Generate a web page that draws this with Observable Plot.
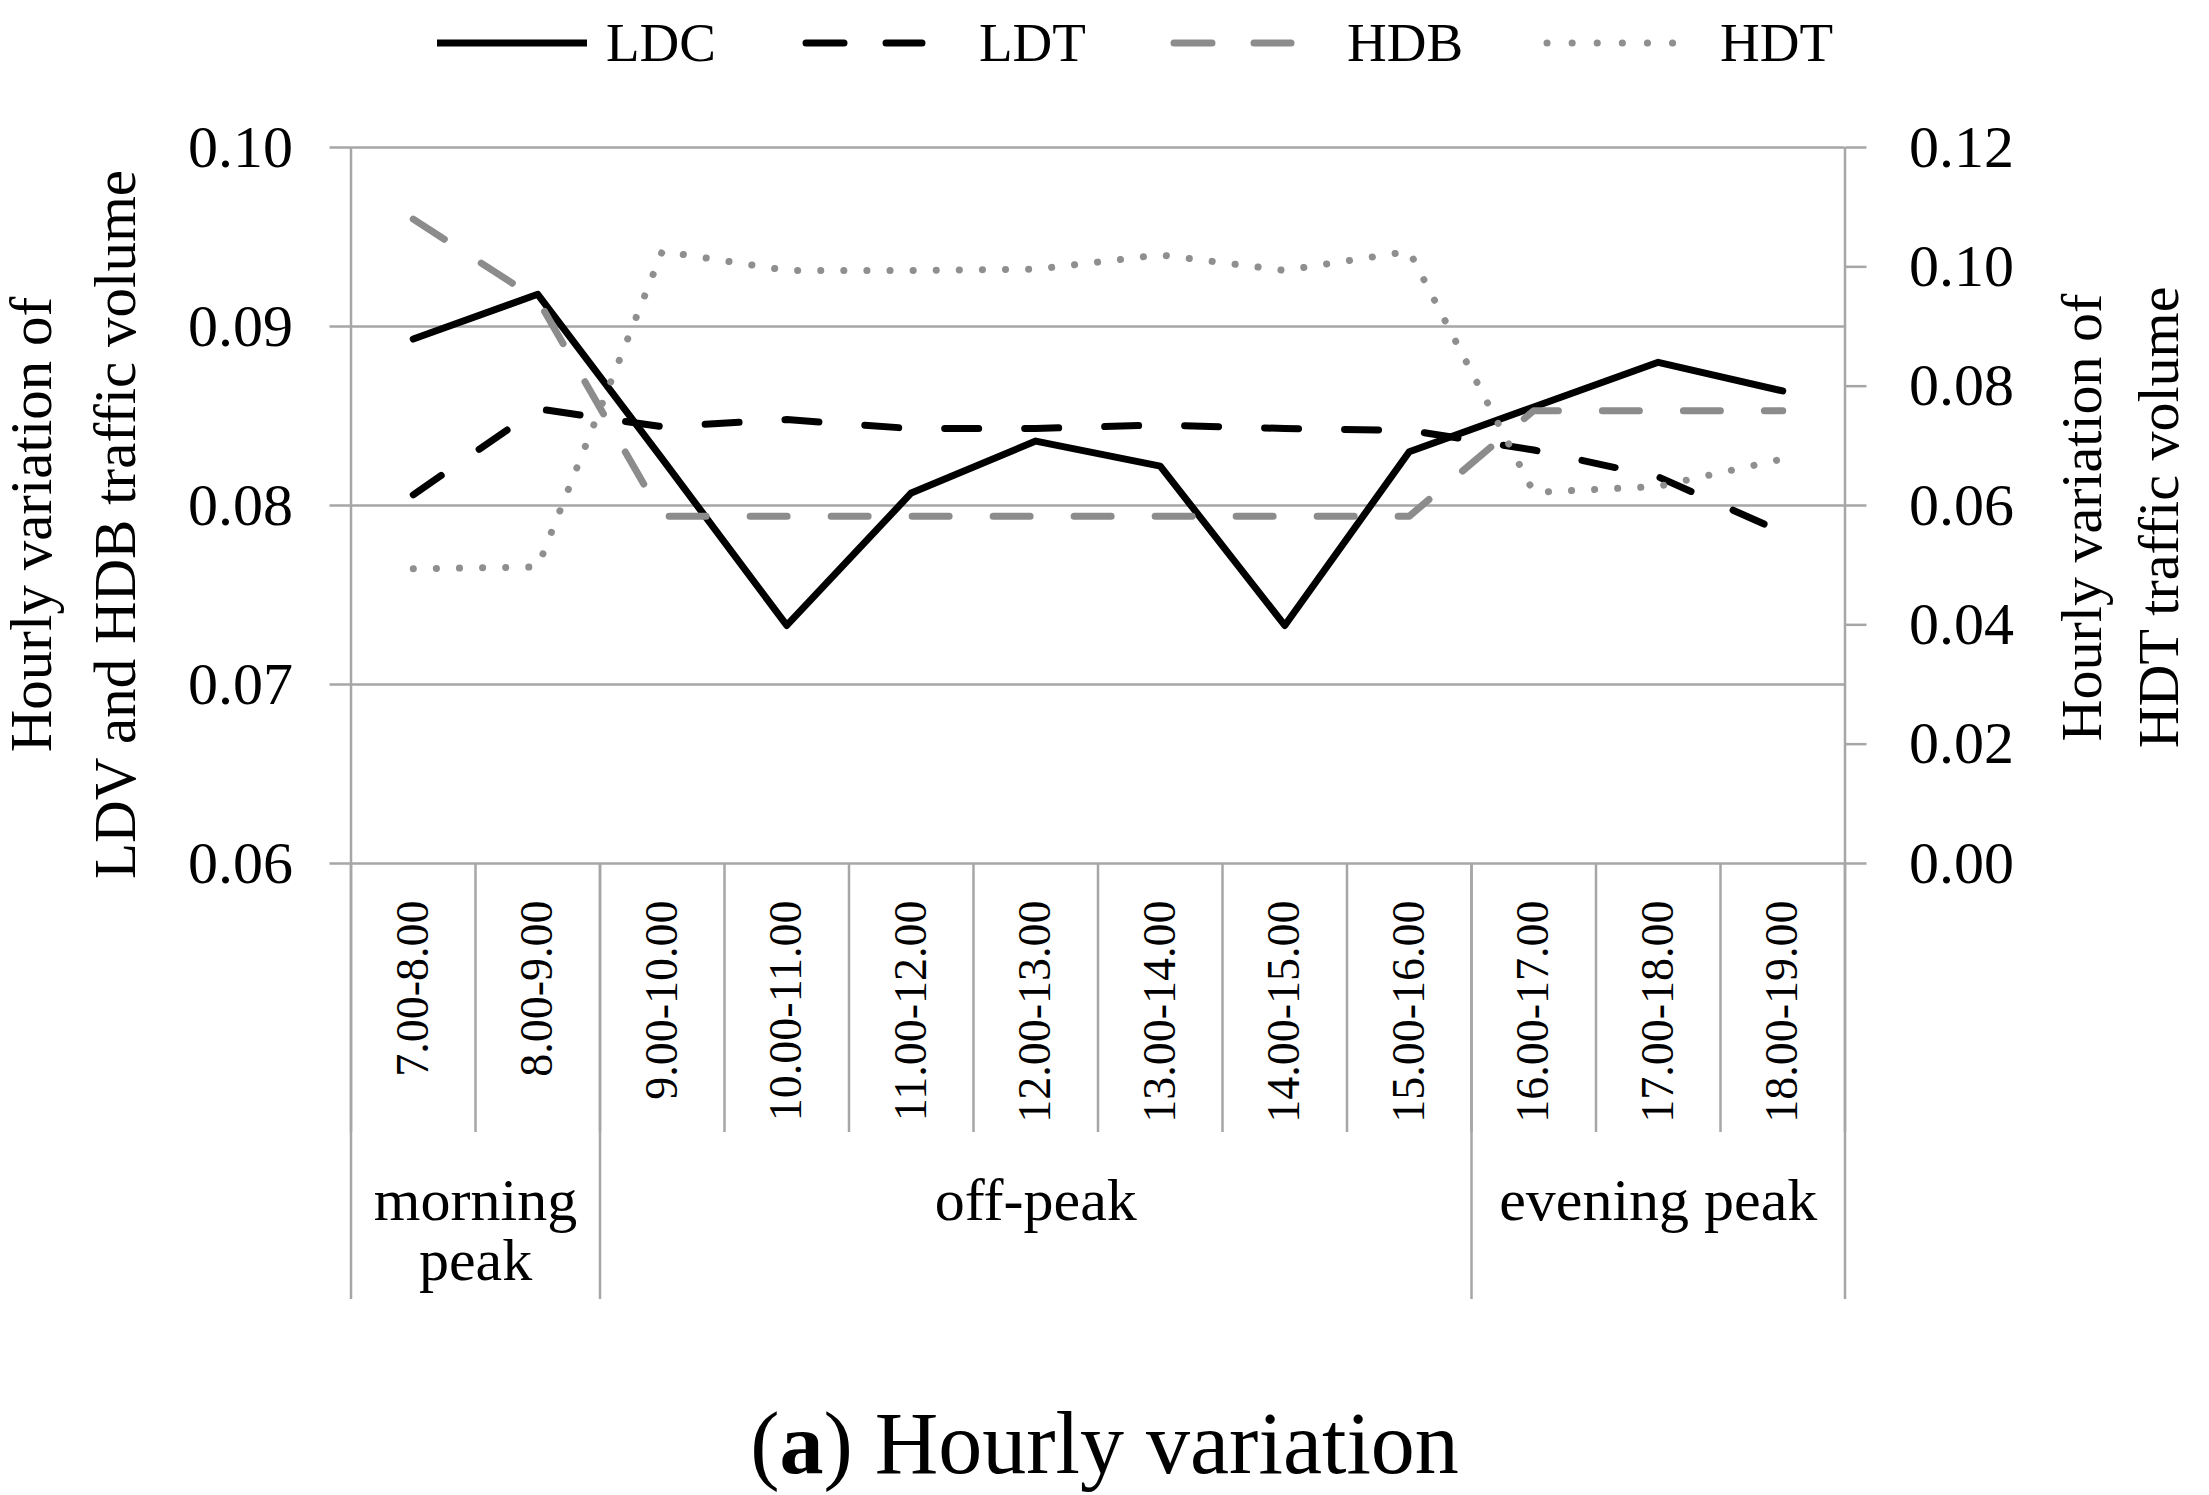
<!DOCTYPE html>
<html>
<head>
<meta charset="utf-8">
<script src="https://cdn.jsdelivr.net/npm/d3@7"></script>
<script src="https://cdn.jsdelivr.net/npm/@observablehq/plot@0.6"></script>
<style>
  html, body { margin: 0; padding: 0; background: #fff; }
  body { width: 2209px; height: 1495px; overflow: hidden; font-family: "Liberation Serif", "DejaVu Serif", serif; color: #000; }
  #legend { position: relative; height: 86px; }
  #legend .sw { position: absolute; }
  #legend .lb { position: absolute; font-size: 55px; line-height: 55px; }
  #chart svg { display: block; }
  #caption { text-align: center; font-size: 88px; line-height: 96px; padding-top: 0; }
</style>
</head>
<body>
<div id="legend"></div>
<div id="chart"></div>
<div id="caption">(<b>a</b>) Hourly variation</div>
<script>
// ---- data ----
const categories = ["7.00-8.00", "8.00-9.00", "9.00-10.00", "10.00-11.00", "11.00-12.00", "12.00-13.00",
                    "13.00-14.00", "14.00-15.00", "15.00-16.00", "16.00-17.00", "17.00-18.00", "18.00-19.00"];
const ldc = [0.0893, 0.0918, 0.0826, 0.0733, 0.0807, 0.0836, 0.0822, 0.0733, 0.0830, 0.0855, 0.0880, 0.0864];
const ldt = [0.0806, 0.0854, 0.0844, 0.0848, 0.0843, 0.0843, 0.0845, 0.0843, 0.0842, 0.0831, 0.0816, 0.0785];
const hdb = [0.0960, 0.0915, 0.0794, 0.0794, 0.0794, 0.0794, 0.0794, 0.0794, 0.0794, 0.0853, 0.0853, 0.0853];
const hdt = [0.0494, 0.0497, 0.1026, 0.0994, 0.0994, 0.0996, 0.1020, 0.0994, 0.1026, 0.0622, 0.0632, 0.0678];
const periodNames = ["morning\npeak", "off-peak", "evening peak"];
const periodStart = [0, 2, 9];
const periodEnd = [2, 9, 12];
const leftTicks = [0.06, 0.07, 0.08, 0.09, 0.10];
const rightTicks = [0, 0.02, 0.04, 0.06, 0.08, 0.10, 0.12];
const seriesNames = ["LDC", "LDT", "HDB", "HDT"];
const leftTitle = "Hourly variation of\nLDV and HDB traffic volume";
const rightTitle = "Hourly variation of\nHDT traffic volume";

// ---- styles ----
const grid = "#a6a6a6";
const styles = {
  LDC: {stroke: "#000000", strokeWidth: 7, strokeDasharray: null, strokeLinecap: "round"},
  LDT: {stroke: "#000000", strokeWidth: 7, strokeDasharray: "34,46", strokeLinecap: "round"},
  HDB: {stroke: "#8c8c8c", strokeWidth: 7, strokeDasharray: "37,44", strokeLinecap: "round"},
  HDT: {stroke: "#8f8f8f", strokeWidth: 7, strokeDasharray: "0.1,23", strokeLinecap: "round"}
};
const legendLayout = {
  LDC: {sx: 433, sw: 158, lx: 606, dash: null},
  LDT: {sx: 802, sw: 124, lx: 979, dash: "38,42"},
  HDB: {sx: 1170, sw: 125, lx: 1347, dash: "38,42"},
  HDT: {sx: 1543, sw: 158, lx: 1720, dash: "0.1,25"}
};

// secondary (HDT) axis mapped onto primary domain [0.06, 0.10] <- [0, 0.12]
const toLeft = v => 0.06 + v * (0.04 / 0.12);
const fromLeft = v => (v - 0.06) * (0.12 / 0.04);

const seriesData = {LDC: ldc, LDT: ldt, HDB: hdb, HDT: hdt.map(toLeft)};

// ---- legend ----
const legend = document.getElementById("legend");
for (const name of seriesNames) {
  const L = legendLayout[name], s = styles[name];
  const svgNS = "http://www.w3.org/2000/svg";
  const sw = document.createElementNS(svgNS, "svg");
  sw.setAttribute("class", "sw");
  sw.setAttribute("width", L.sw);
  sw.setAttribute("height", 20);
  sw.style.left = L.sx + "px";
  sw.style.top = (43 - 10) + "px";
  const ln = document.createElementNS(svgNS, "line");
  ln.setAttribute("x1", 4); ln.setAttribute("x2", L.sw - 4);
  ln.setAttribute("y1", 10); ln.setAttribute("y2", 10);
  ln.setAttribute("stroke", s.stroke);
  ln.setAttribute("stroke-width", 7);
  ln.setAttribute("stroke-linecap", name === "LDC" ? "butt" : "round");
  if (L.dash) ln.setAttribute("stroke-dasharray", L.dash);
  sw.appendChild(ln);
  legend.appendChild(sw);
  const lb = document.createElement("div");
  lb.className = "lb";
  lb.textContent = name;
  lb.style.left = L.lx + "px";
  lb.style.top = (43 - 28) + "px";
  legend.appendChild(lb);
}

// ---- chart ----
const lineMarks = seriesNames.map(name => {
  const vals = seriesData[name];
  const rows = categories.map((c, i) => ({i, v: vals[i]}));
  const s = styles[name];
  const opts = {x: d => d.i + 0.5, y: d => d.v, stroke: s.stroke, strokeWidth: s.strokeWidth,
                strokeLinecap: s.strokeLinecap, strokeLinejoin: "round"};
  if (s.strokeDasharray) opts.strokeDasharray = s.strokeDasharray;
  return Plot.line(rows, opts);
});

const chart = Plot.plot({
  width: 2209,
  height: 1310,
  marginLeft: 350.5,
  marginRight: 364.5,
  marginTop: 61,
  marginBottom: 533,
  style: {fontFamily: "'Liberation Serif', serif", fontSize: "60px", color: "#000", background: "#fff", overflow: "visible"},
  x: {type: "linear", domain: [0, categories.length]},
  y: {domain: [0.06, 0.10]},
  marks: [
    Plot.gridY(leftTicks.slice(1), {stroke: grid, strokeOpacity: 1, strokeWidth: 2.5}),
    Plot.ruleY([0.06], {stroke: grid, strokeWidth: 2.5}),
    Plot.ruleX([0, categories.length], {stroke: grid, strokeWidth: 2.5}),
    Plot.axisY(leftTicks, {anchor: "left", tickSize: 21, tickPadding: 37, tickFormat: d3.format(".2f"),
      stroke: grid, strokeWidth: 2.5, strokeOpacity: 1, label: null}),
    Plot.axisY(rightTicks.map(toLeft), {anchor: "right", tickSize: 21, tickPadding: 43,
      tickFormat: d => fromLeft(d).toFixed(2), stroke: grid, strokeWidth: 2.5, strokeOpacity: 1, label: null}),
    // category separators
    Plot.axisX(d3.range(categories.length + 1), {anchor: "bottom", tickSize: 269, tickFormat: () => "",
      stroke: grid, strokeWidth: 2.5, strokeOpacity: 1, label: null}),
    // period separators
    Plot.axisX([...periodStart, categories.length], {anchor: "bottom", tickSize: 436, tickFormat: () => "",
      stroke: grid, strokeWidth: 2.5, strokeOpacity: 1, label: null}),
    Plot.text(categories, {x: (d, i) => i + 0.5, frameAnchor: "bottom", dy: 37, rotate: -90,
      textAnchor: "end", lineAnchor: "middle", fontSize: 46}),
    Plot.text(periodNames, {x: (d, i) => (periodStart[i] + periodEnd[i]) / 2, frameAnchor: "bottom", dy: 314,
      textAnchor: "middle", lineAnchor: "top", fontSize: 60, lineHeight: 1.0}),
    Plot.text([leftTitle], {frameAnchor: "left", rotate: -90, dx: -285, dy: 19, textAnchor: "middle",
      lineAnchor: "middle", fontSize: 59, lineHeight: 1.42}),
    Plot.text([rightTitle], {frameAnchor: "right", rotate: -90, dx: 270, dy: 12, textAnchor: "middle",
      lineAnchor: "middle", fontSize: 58, lineHeight: 1.33}),
    ...lineMarks
  ]
});
document.getElementById("chart").appendChild(chart);
</script>
</body>
</html>
